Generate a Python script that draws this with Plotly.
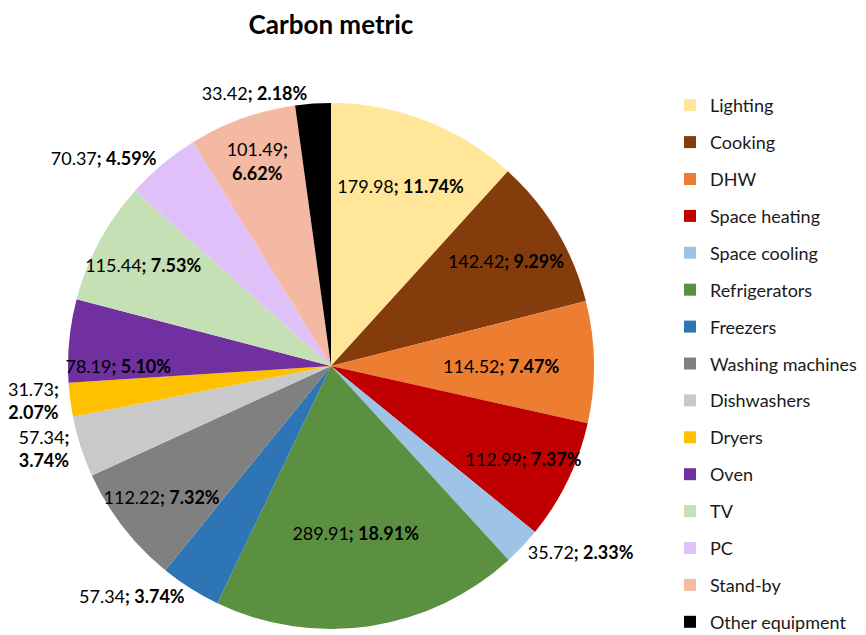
import plotly.graph_objects as go

categories = ["Lighting", "Cooking", "DHW", "Space heating", "Space cooling",
              "Refrigerators", "Freezers", "Washing machines", "Dishwashers",
              "Dryers", "Oven", "TV", "PC", "Stand-by", "Other equipment"]
values = [179.98, 142.42, 114.52, 112.99, 35.72, 289.91, 57.34, 112.22,
          57.34, 31.73, 78.19, 115.44, 70.37, 101.49, 33.42]
colors = ["#FFE699", "#843C0C", "#ED7D31", "#C00000", "#9DC3E6", "#5B9040",
          "#2E75B6", "#808080", "#C9C9C9", "#FFC000", "#7030A0", "#C5E0B4",
          "#E0C0F8", "#F4B9A2", "#000000"]
text_pos = ["inside", "inside", "inside", "inside", "outside", "inside",
            "outside", "inside", "outside", "outside", "inside", "inside",
            "outside", "inside", "outside"]
wrapped = [False, False, False, False, False, False, False, False,
           True, True, False, False, False, True, False]

FONT = "Lato"
W, H = 858, 627  # page body adds an 8px offset in the 866x635 window
one_line = "%{value:.2f}<b>; %{percent:.2%}</b>"
two_line = "%{value:.2f}<b>;</b><br><b>%{percent:.2%}</b>"
templates = [two_line if w else one_line for w in wrapped]

fig = go.Figure()
fig.add_trace(go.Pie(
    labels=categories, values=values, sort=False, direction="clockwise",
    rotation=0, marker=dict(colors=colors, line=dict(width=0)),
    texttemplate=templates, textposition=text_pos,
    insidetextorientation="horizontal",
    textfont=dict(family=FONT, size=18, color="black"),
    insidetextfont=dict(family=FONT, size=18, color="black"),
    outsidetextfont=dict(family=FONT, size=18, color="black"),
    showlegend=False, hoverinfo="label+value+percent",
    domain=dict(x=[60/W, 586/W], y=[1-621/H, 1-95/H]),
))

# legend entries, one group per category so each entry is spaced apart
for c, col in zip(categories, colors):
    fig.add_trace(go.Scatter(
        x=[None], y=[None], mode="markers", name=c, legendgroup=c,
        marker=dict(symbol="square", size=12, color=col),
        hoverinfo="skip",
    ))

fig.update_layout(
    width=W, height=H,
    margin=dict(l=0, r=0, t=0, b=0, autoexpand=False),
    paper_bgcolor="white", plot_bgcolor="white",
    font=dict(family=FONT, color="black"),
    title=dict(text="<b>Carbon metric</b>", x=323/W, xanchor="center",
               y=1-16.5/H, yanchor="middle",
               font=dict(family=FONT, size=26, color="black")),
    xaxis=dict(visible=False), yaxis=dict(visible=False),
    uniformtext=dict(minsize=18, mode="show"),
    legend=dict(x=662/W, xanchor="left", y=1-79/H, yanchor="top",
                font=dict(family=FONT, size=18, color="#1a1a1a"),
                tracegroupgap=10.5, itemsizing="constant",
                bgcolor="rgba(0,0,0,0)"),
)

fig.write_html("out.html")
